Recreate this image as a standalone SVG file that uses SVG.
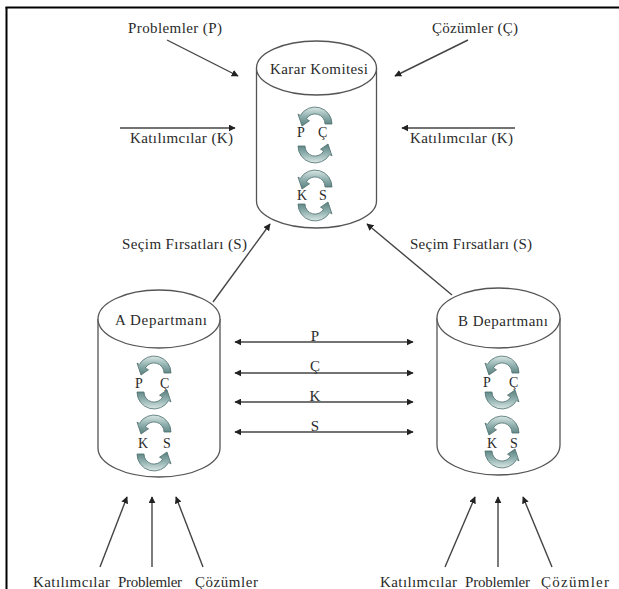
<svg xmlns="http://www.w3.org/2000/svg" xmlns:xlink="http://www.w3.org/1999/xlink" width="619" height="589" viewBox="0 0 619 589">
<style>
  .t { font-family: "Liberation Serif", "Times New Roman", serif; font-size: 15px; fill: #2a2a2a; }
  .lt { font-family: "Liberation Serif", "Times New Roman", serif; font-size: 14px; fill: #2a2a2a; }
  .cyl { fill: #ffffff; stroke: #555555; stroke-width: 1.3; }
  .con { stroke: #444444; stroke-width: 1.4; fill: none; }
  .arc { fill: url(#arcGrad); stroke: #4f6f6e; stroke-width: 0.8; }
</style>
<defs>
  <linearGradient id="arcGrad" x1="0" y1="0" x2="0" y2="1">
    <stop offset="0" stop-color="#dbe8e6"/>
    <stop offset="0.5" stop-color="#8fb0ae"/>
    <stop offset="1" stop-color="#587f7d"/>
  </linearGradient>
  <marker id="ah" viewBox="0 0 10 10" refX="9" refY="5" markerWidth="7" markerHeight="7" markerUnits="userSpaceOnUse" orient="auto-start-reverse">
    <path d="M0,0 L10,5 L0,10 Z" fill="#222222"/>
  </marker>
  <path id="arcTop" class="arc" d="M35,18 A17,17 0 0 0 3.3,9.5 L1,8 L5,20 L12.5,14.8 L9.3,13 A10,10 0 0 1 28,18 Z"/>
</defs>

<rect width="619" height="589" fill="#ffffff"/>
<g id="frame">
  <line x1="6.5" y1="7" x2="6.5" y2="589" stroke="#000" stroke-width="2"/>
  <line x1="5.5" y1="7.5" x2="619" y2="7.5" stroke="#000" stroke-width="2"/>
</g>

<g id="connectors">
  <line class="con" x1="167" y1="40" x2="238" y2="76" marker-end="url(#ah)"/>
  <line class="con" x1="468" y1="40" x2="395" y2="76" marker-end="url(#ah)"/>
  <line class="con" x1="120" y1="128" x2="235" y2="128" marker-end="url(#ah)"/>
  <line class="con" x1="515" y1="128" x2="402" y2="128" marker-end="url(#ah)"/>
  <line class="con" x1="213" y1="302" x2="270" y2="224" marker-end="url(#ah)"/>
  <line class="con" x1="452" y1="295" x2="367" y2="224" marker-end="url(#ah)"/>
  <line class="con" x1="235" y1="342" x2="413" y2="342" marker-start="url(#ah)" marker-end="url(#ah)"/>
  <line class="con" x1="235" y1="373" x2="413" y2="373" marker-start="url(#ah)" marker-end="url(#ah)"/>
  <line class="con" x1="235" y1="402" x2="413" y2="402" marker-start="url(#ah)" marker-end="url(#ah)"/>
  <line class="con" x1="235" y1="432" x2="413" y2="432" marker-start="url(#ah)" marker-end="url(#ah)"/>
  <line class="con" x1="100" y1="567" x2="127" y2="497" marker-end="url(#ah)"/>
  <line class="con" x1="152" y1="567" x2="152" y2="497" marker-end="url(#ah)"/>
  <line class="con" x1="203" y1="567" x2="176" y2="497" marker-end="url(#ah)"/>
  <line class="con" x1="445" y1="567" x2="475" y2="497" marker-end="url(#ah)"/>
  <line class="con" x1="498" y1="567" x2="498" y2="497" marker-end="url(#ah)"/>
  <line class="con" x1="552" y1="567" x2="523" y2="497" marker-end="url(#ah)"/>
</g>

<g id="labels">
  <text class="t" x="128" y="33" textLength="94" lengthAdjust="spacing">Problemler (P)</text>
  <text class="t" x="432" y="33" textLength="86" lengthAdjust="spacing">Çözümler (Ç)</text>
  <text class="t" x="130" y="143" textLength="103" lengthAdjust="spacing">Katılımcılar (K)</text>
  <text class="t" x="410" y="143" textLength="103" lengthAdjust="spacing">Katılımcılar (K)</text>
  <text class="t" x="122" y="249" textLength="125" lengthAdjust="spacing">Seçim Fırsatları (S)</text>
  <text class="t" x="410" y="249" textLength="122" lengthAdjust="spacing">Seçim Fırsatları (S)</text>
  <text class="t" x="315" y="341" text-anchor="middle">P</text>
  <text class="t" x="315" y="371" text-anchor="middle">Ç</text>
  <text class="t" x="315" y="401" text-anchor="middle">K</text>
  <text class="t" x="315" y="431" text-anchor="middle">S</text>
  <text class="t" x="33" y="587" textLength="77" lengthAdjust="spacing">Katılımcılar</text>
  <text class="t" x="118" y="587" textLength="64" lengthAdjust="spacing">Problemler</text>
  <text class="t" x="195" y="587" textLength="63" lengthAdjust="spacing">Çözümler</text>
  <text class="t" x="380" y="587" textLength="77" lengthAdjust="spacing">Katılımcılar</text>
  <text class="t" x="465" y="587" textLength="65" lengthAdjust="spacing">Problemler</text>
  <text class="t" x="541" y="587" textLength="68" lengthAdjust="spacing">Çözümler</text>
</g>

<g id="karar-komitesi">
  <path class="cyl" d="M256.5,68 L256.5,201 A60,27 0 0 0 376.5,201 L376.5,68"/>
  <ellipse class="cyl" cx="316.5" cy="68" rx="60" ry="27"/>
  <text class="t" x="270" y="74" textLength="98" lengthAdjust="spacing">Karar Komitesi</text>
  <use href="#arcTop" transform="translate(297,106)"/>
  <use href="#arcTop" transform="translate(333,164) rotate(180)"/>
  <use href="#arcTop" transform="translate(297,169)"/>
  <use href="#arcTop" transform="translate(333,222) rotate(180)"/>
  <text class="lt" x="297" y="137">P</text>
  <text class="lt" x="318" y="137">Ç</text>
  <text class="lt" x="297" y="200">K</text>
  <text class="lt" x="319" y="200">S</text>
</g>

<g id="a-departmani">
  <path class="cyl" d="M98,319 L98,448 A61,29 0 0 0 220,448 L220,319"/>
  <ellipse class="cyl" cx="159" cy="319" rx="61" ry="29"/>
  <text class="t" x="115" y="325" textLength="92" lengthAdjust="spacing">A Departmanı</text>
  <use href="#arcTop" transform="translate(136,355)"/>
  <use href="#arcTop" transform="translate(172,410) rotate(180)"/>
  <use href="#arcTop" transform="translate(136,414)"/>
  <use href="#arcTop" transform="translate(172,472) rotate(180)"/>
  <text class="lt" x="135" y="388">P</text>
  <text class="lt" x="160" y="388">Ç</text>
  <text class="lt" x="138" y="448">K</text>
  <text class="lt" x="163" y="448">S</text>
</g>

<g id="b-departmani">
  <path class="cyl" d="M437,318 L437,445 A61.5,30 0 0 0 560,445 L560,318"/>
  <ellipse class="cyl" cx="498.5" cy="318" rx="61.5" ry="30"/>
  <text class="t" x="458" y="326" textLength="90" lengthAdjust="spacing">B Departmanı</text>
  <use href="#arcTop" transform="translate(484,355)"/>
  <use href="#arcTop" transform="translate(520,410) rotate(180)"/>
  <use href="#arcTop" transform="translate(484,415)"/>
  <use href="#arcTop" transform="translate(520,469) rotate(180)"/>
  <text class="lt" x="483" y="387">P</text>
  <text class="lt" x="509" y="387">Ç</text>
  <text class="lt" x="487" y="448">K</text>
  <text class="lt" x="510" y="448">S</text>
</g>
</svg>
